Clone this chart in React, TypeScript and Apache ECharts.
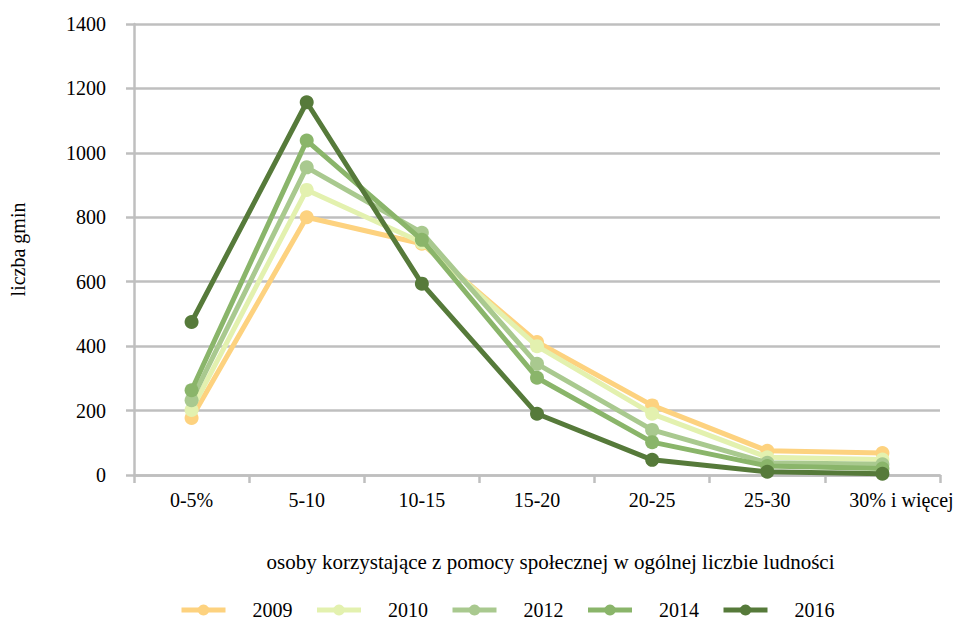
import React, { useEffect, useRef } from "react";
import * as echarts from "echarts";

const categories = ["0-5%", "5-10", "10-15", "15-20", "20-25", "25-30", "30% i więcej"];
const years = ["2009", "2010", "2012", "2014", "2016"];
const s2009 = [177, 800, 718, 413, 216, 75, 68];
const s2010 = [202, 885, 722, 400, 190, 55, 48];
const s2012 = [232, 955, 752, 345, 140, 38, 33];
const s2014 = [263, 1038, 730, 302, 102, 28, 20];
const s2016 = [475, 1157, 594, 190, 47, 10, 4];
const yTicks = [0, 200, 400, 600, 800, 1000, 1200, 1400];
const colors = ["#FDD27F", "#E3F1AF", "#A9C98F", "#8AB56A", "#567A3A"];

const seriesData = [s2009, s2010, s2012, s2014, s2016];

export default function App() {
  const ref = useRef<HTMLDivElement>(null);
  useEffect(() => {
    if (!ref.current) return;
    const chart = echarts.init(ref.current, null, { renderer: "svg" });
    const font = "Liberation Serif";
    const fs = 20;
    chart.setOption({
      animation: false,
      textStyle: { fontFamily: font },
      grid: { left: 133, right: 39, top: 24, bottom: 150 },
      legend: {
        bottom: 0,
        left: 174,
        itemWidth: 44,
        itemHeight: 14,
        itemGap: 22,
        lineStyle: { width: 5 },
        textStyle: { fontFamily: font, fontSize: fs, color: "#000", padding: [0, 0, 0, 22] },
        data: years,
      },
      xAxis: {
        type: "category",
        data: categories,
        boundaryGap: true,
        name: "osoby korzystające z pomocy społecznej w ogólnej liczbie ludności",
        nameLocation: "middle",
        nameGap: 76,
        nameTextStyle: { fontFamily: font, fontSize: 21, color: "#000", padding: [0, 0, 0, 27] },
        axisLine: { lineStyle: { color: "#BFBFBF", width: 2.5 } },
        axisTick: { show: true, length: 8, interval: 0, lineStyle: { color: "#BFBFBF", width: 2.5 } },
        axisLabel: {
          fontFamily: font,
          fontSize: fs,
          color: "#000",
          margin: 15,
          interval: 0,
          formatter: (v: string, i: number) => (i === categories.length - 1 ? "{last|" + v + "}" : v),
          rich: { last: { fontFamily: font, fontSize: fs, color: "#000", padding: [0, 0, 0, 38] } },
        },
      },
      yAxis: {
        type: "value",
        min: 0,
        max: yTicks[yTicks.length - 1],
        interval: 200,
        name: "liczba gmin",
        nameLocation: "middle",
        nameGap: 106,
        nameRotate: 90,
        nameTextStyle: { fontFamily: font, fontSize: fs, color: "#000" },
        axisLine: { show: true, lineStyle: { color: "#BFBFBF", width: 2.5 } },
        axisTick: { show: true, length: 8, lineStyle: { color: "#BFBFBF", width: 2.5 } },
        axisLabel: { fontFamily: font, fontSize: fs, color: "#000", margin: 28, formatter: (v: number) => String(v) },
        splitLine: { lineStyle: { color: "#BFBFBF", width: 2.5 } },
      },
      series: years.map((y, i) => ({
        name: y,
        type: "line",
        data: seriesData[i],
        symbol: "circle",
        symbolSize: 14,
        z: 2 + i,
        itemStyle: { color: colors[i] },
        lineStyle: { color: colors[i], width: 5 },
      })),
    });
    return () => chart.dispose();
  }, []);
  return <div ref={ref} style={{ width: 979, height: 625, position: "absolute", left: 0, top: 0 }} />;
}
